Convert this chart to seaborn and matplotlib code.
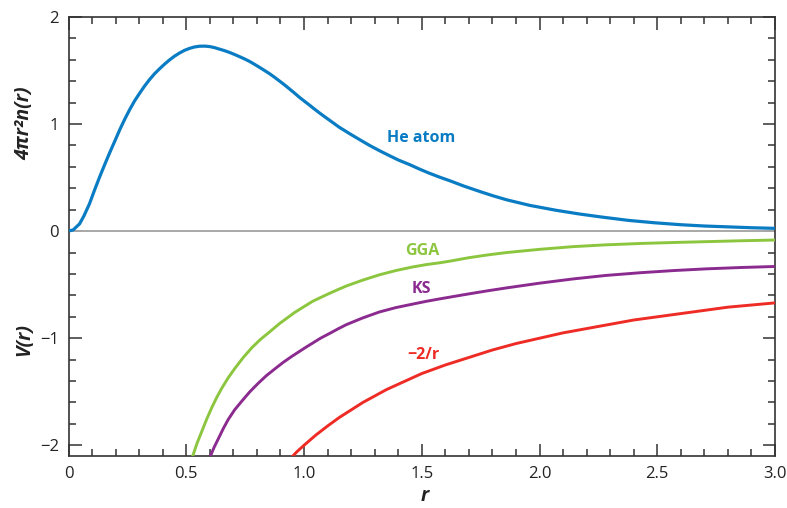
import numpy as np
import pandas as pd
import matplotlib
matplotlib.use("Agg")
import matplotlib.pyplot as plt
from matplotlib.ticker import MultipleLocator
import seaborn as sns

# ---- data ----
he_r = [0.0, 0.02, 0.047, 0.065, 0.089, 0.11, 0.132, 0.153, 0.174, 0.196, 0.217, 0.238,
        0.259, 0.28, 0.302, 0.323, 0.344, 0.365, 0.387, 0.408, 0.429, 0.45, 0.471, 0.492,
        0.514, 0.535, 0.556, 0.578, 0.599, 0.62, 0.641, 0.662, 0.684, 0.705, 0.726, 0.748,
        0.769, 0.79, 0.811, 0.832, 0.854, 0.875, 0.896, 0.918, 0.939, 0.96, 0.98, 1.002,
        1.024, 1.045, 1.067, 1.088, 1.109, 1.15, 1.194, 1.236, 1.279, 1.32, 1.36, 1.40,
        1.45, 1.49, 1.53, 1.575, 1.62, 1.68, 1.747, 1.80, 1.86, 1.96, 2.07, 2.17, 2.27,
        2.38, 2.49, 2.60, 2.70, 2.80, 2.90, 3.0]
he_v = [0.0, 0.012, 0.068, 0.14, 0.255, 0.38, 0.505, 0.618, 0.728, 0.838, 0.944, 1.042,
        1.132, 1.214, 1.288, 1.355, 1.415, 1.469, 1.517, 1.56, 1.599, 1.634, 1.663, 1.688,
        1.707, 1.72, 1.727, 1.728, 1.724, 1.714, 1.70, 1.686, 1.669, 1.65, 1.63, 1.608,
        1.585, 1.558, 1.53, 1.501, 1.47, 1.437, 1.402, 1.365, 1.327, 1.289, 1.251, 1.213,
        1.176, 1.139, 1.102, 1.068, 1.035, 0.97, 0.91, 0.855, 0.80, 0.752, 0.708, 0.665,
        0.62, 0.58, 0.543, 0.505, 0.47, 0.42, 0.37, 0.332, 0.293, 0.24, 0.195, 0.16, 0.13,
        0.10, 0.078, 0.06, 0.048, 0.04, 0.032, 0.026]

gga_r = [0.515, 0.526, 0.546, 0.566, 0.587, 0.608, 0.629, 0.650, 0.678, 0.707, 0.742,
         0.778, 0.813, 0.849, 0.898, 0.96, 1.0, 1.037, 1.075, 1.109, 1.145, 1.18, 1.25,
         1.32, 1.39, 1.46, 1.52, 1.578, 1.62, 1.70, 1.78, 1.86, 2.0, 2.14, 2.28, 2.43,
         2.57, 2.71, 2.85, 3.0]
gga_v = [-2.20, -2.11, -1.98, -1.87, -1.755, -1.65, -1.555, -1.47, -1.37, -1.28, -1.18,
         -1.09, -1.015, -0.95, -0.86, -0.76, -0.705, -0.655, -0.615, -0.58, -0.545, -0.512,
         -0.457, -0.408, -0.368, -0.335, -0.312, -0.295, -0.28, -0.248, -0.222, -0.20,
         -0.17, -0.145, -0.128, -0.115, -0.106, -0.098, -0.09, -0.083]

ks_r = [0.592, 0.601, 0.618, 0.636, 0.657, 0.678, 0.705, 0.735, 0.77, 0.806, 0.84, 0.877,
        0.912, 0.948, 1.004, 1.037, 1.07, 1.109, 1.145, 1.18, 1.25, 1.32, 1.39, 1.46,
        1.52, 1.578, 1.62, 1.70, 1.78, 1.86, 2.0, 2.14, 2.28, 2.43, 2.57, 2.71, 2.85, 3.0]
ks_v = [-2.18, -2.11, -2.02, -1.94, -1.845, -1.76, -1.67, -1.59, -1.50, -1.42, -1.35,
        -1.285, -1.225, -1.17, -1.09, -1.045, -1.0, -0.955, -0.912, -0.873, -0.81, -0.755,
        -0.714, -0.682, -0.655, -0.632, -0.616, -0.586, -0.557, -0.53, -0.486, -0.447,
        -0.414, -0.388, -0.368, -0.352, -0.34, -0.33]

coul_r = [0.94, 0.97, 1.0, 1.05, 1.1, 1.15, 1.2, 1.25, 1.3, 1.35, 1.4, 1.5, 1.6, 1.7, 1.8,
          1.9, 2.0, 2.1, 2.2, 2.4, 2.6, 2.8, 3.0]
coul_v = [-2.13, -2.06, -2.0, -1.905, -1.82, -1.74, -1.67, -1.60, -1.54, -1.48, -1.43,
          -1.33, -1.25, -1.18, -1.11, -1.05, -1.0, -0.95, -0.91, -0.83, -0.77, -0.71, -0.67]

x_ticks = [0, 0.5, 1.0, 1.5, 2.0, 2.5, 3.0]
x_ticklabels = ["0", "0.5", "1.0", "1.5", "2.0", "2.5", "3.0"]
y_ticks = [-2, -1, 0, 1, 2]
y_ticklabels = ["\u22122", "\u22121", "0", "1", "2"]

C_BLUE = "#0a7cc4"
C_GREEN = "#8cc63f"
C_PURPLE = "#8b2a8f"
C_RED = "#ee2b24"

sns.set_style("ticks")
plt.rcParams["font.family"] = ["Open Sans", "DejaVu Sans"]

fig = plt.figure(figsize=(7.87, 5.08), dpi=100)
ax = fig.add_axes([68.5 / 787, 1 - 456 / 508, (775 - 68.5) / 787, (456 - 17) / 508])

ax.axhline(0, color="#a8a8a8", lw=1.4, zorder=1)

line_kw = dict(sort=False, zorder=3, solid_joinstyle="round", solid_capstyle="butt")
sns.lineplot(x=he_r, y=he_v, ax=ax, color=C_BLUE, lw=2.3, **line_kw)
sns.lineplot(x=gga_r, y=gga_v, ax=ax, color=C_GREEN, lw=2.1, **line_kw)
sns.lineplot(x=ks_r, y=ks_v, ax=ax, color=C_PURPLE, lw=2.1, **line_kw)
sns.lineplot(x=coul_r, y=coul_v, ax=ax, color=C_RED, lw=2.1, **line_kw)

ax.set_xlim(0, 3.0)
ax.set_ylim(-2.1, 2.0)
ax.set_xticks(x_ticks)
ax.set_xticklabels(x_ticklabels)
ax.set_yticks(y_ticks)
ax.set_yticklabels(y_ticklabels)
ax.xaxis.set_minor_locator(MultipleLocator(0.1))
ax.yaxis.set_minor_locator(MultipleLocator(0.2))
ax.tick_params(which="both", direction="in", top=True, right=True, color="#333333",
               width=1.1, labelsize=12, labelcolor="#222222")
ax.tick_params(which="major", length=9, pad=7)
ax.tick_params(which="minor", length=5)
for s in ax.spines.values():
    s.set_color("#333333")
    s.set_linewidth(1.2)
    s.set_visible(True)
ax.set_xlabel("")
ax.set_ylabel("")

lab = dict(fontsize=14, fontweight="bold", style="italic", color="#222222")
fig.text(425 / 787, 1 - 496 / 508, "r", ha="center", va="center", **lab)
fig.text(24 / 787, 1 - 123 / 508, "4\u03c0r\u00b2n(r)", rotation=90, ha="center", va="center", **lab)
fig.text(24 / 787, 1 - 340 / 508, "V(r)", rotation=90, ha="center", va="center", **lab)

ann = dict(fontsize=11.5, fontweight="bold", ha="center", va="center")
ax.text(1.497, 0.87, "He atom", color=C_BLUE, **ann)
ax.text(1.50, -0.19, "GGA", color=C_GREEN, **ann)
ax.text(1.50, -0.54, "KS", color=C_PURPLE, **ann)
ax.text(1.505, -1.16, "\u22122/r", color=C_RED, **ann)

fig.savefig("out.png", dpi=100)
